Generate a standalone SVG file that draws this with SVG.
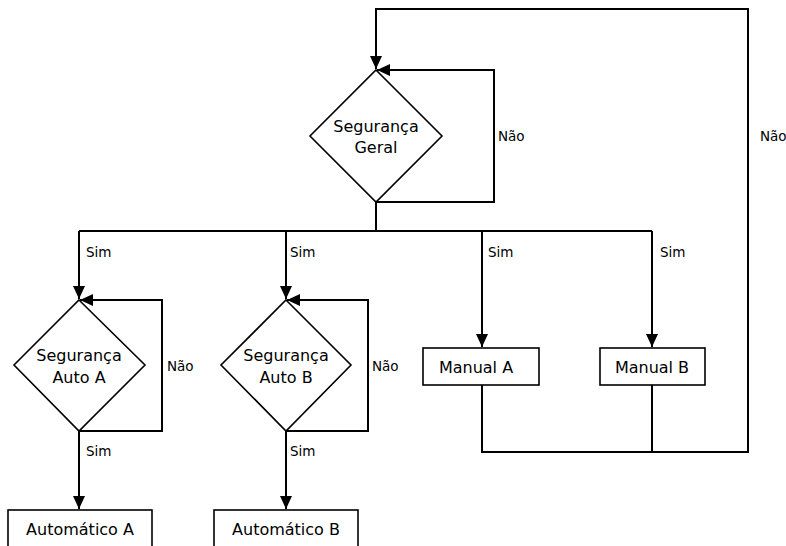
<svg xmlns="http://www.w3.org/2000/svg" width="786" height="546" viewBox="0 0 786 546">
<defs>
<marker id="arr" markerUnits="userSpaceOnUse" markerWidth="14" markerHeight="12" refX="13" refY="6" orient="auto">
<path d="M0,0 L13,6 L0,12 Z" fill="#000"/>
</marker>
<style>
.shape{fill:#fff;stroke:#000;stroke-width:1.6}
.edge{fill:none;stroke:#000;stroke-width:2}
.t{font-family:"DejaVu Sans",sans-serif;font-size:16px;fill:#000;text-anchor:middle}
.lbl{font-family:"DejaVu Sans",sans-serif;font-size:13.5px;fill:#000}
</style>
</defs>
<rect width="786" height="546" fill="#fff"/>
<g id="connectors">
<path class="edge" d="M376,202 H494 V70 H377" marker-end="url(#arr)"/>
<path class="edge" d="M482,385 V452 H748 V9 H376 V69" marker-end="url(#arr)"/>
<path class="edge" d="M652,385 V452"/>
<path class="edge" d="M376,202 V231"/>
<path class="edge" d="M79,231 H652"/>
<path class="edge" d="M79,231 V299" marker-end="url(#arr)"/>
<path class="edge" d="M286,231 V299" marker-end="url(#arr)"/>
<path class="edge" d="M482,231 V347" marker-end="url(#arr)"/>
<path class="edge" d="M652,231 V347" marker-end="url(#arr)"/>
<path class="edge" d="M79,431 H162 V300 H80" marker-end="url(#arr)"/>
<path class="edge" d="M286,431 H368 V300 H287" marker-end="url(#arr)"/>
<path class="edge" d="M79,431 V509" marker-end="url(#arr)"/>
<path class="edge" d="M286,431 V509" marker-end="url(#arr)"/>
<text class="lbl" x="498" y="141">Não</text>
<text class="lbl" x="760" y="141">Não</text>
<text class="lbl" x="86" y="257">Sim</text>
<text class="lbl" x="290" y="257">Sim</text>
<text class="lbl" x="488" y="257">Sim</text>
<text class="lbl" x="660" y="257">Sim</text>
<text class="lbl" x="167" y="371">Não</text>
<text class="lbl" x="372" y="371">Não</text>
<text class="lbl" x="86" y="456">Sim</text>
<text class="lbl" x="290" y="456">Sim</text>
</g>
<g id="seg-geral">
<path class="shape" d="M376,70 L442,136 L376,202 L310,136 Z"/>
<text class="t" x="376" y="132">Segurança</text>
<text class="t" x="376" y="153">Geral</text>
</g>
<g id="seg-auto-a">
<path class="shape" d="M79,300 L145,365 L79,431 L14,365 Z"/>
<text class="t" x="79" y="361">Segurança</text>
<text class="t" x="79" y="383">Auto A</text>
</g>
<g id="seg-auto-b">
<path class="shape" d="M286,300 L351,365 L286,431 L221,365 Z"/>
<text class="t" x="286" y="361">Segurança</text>
<text class="t" x="286" y="383">Auto B</text>
</g>
<g id="manual-a">
<rect class="shape" x="423" y="348" width="116" height="37"/>
<text class="t" x="476" y="373">Manual A</text>
</g>
<g id="manual-b">
<rect class="shape" x="600" y="348" width="105" height="37"/>
<text class="t" x="652" y="373">Manual B</text>
</g>
<g id="auto-a">
<rect class="shape" x="8" y="510" width="144" height="46"/>
<text class="t" x="80" y="535">Automático A</text>
</g>
<g id="auto-b">
<rect class="shape" x="214" y="510" width="144" height="46"/>
<text class="t" x="286" y="535">Automático B</text>
</g>
</svg>
